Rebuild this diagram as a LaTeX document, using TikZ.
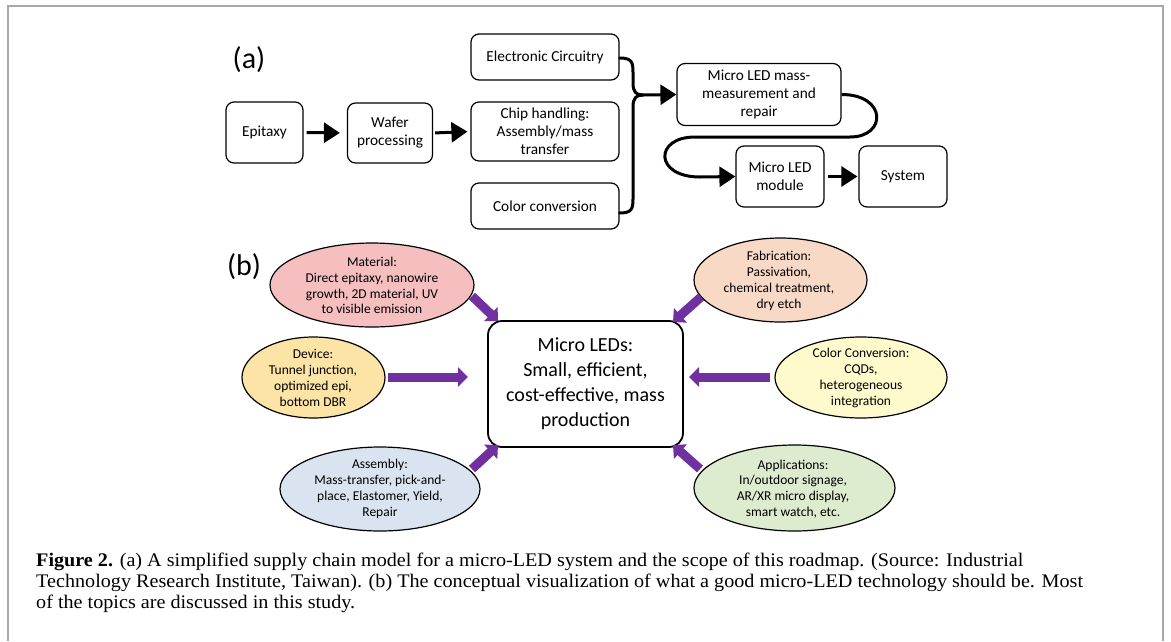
\documentclass[tikz,border=0pt]{standalone}
\usepackage{fontspec}
\setmainfont{Liberation Serif}
\newfontfamily\capfont[FakeStretch=1.05]{Liberation Serif}
\newfontfamily\dia{Carlito}
\usetikzlibrary{arrows.meta,shapes.geometric}
\definecolor{pplarrow}{HTML}{7030A0}
\definecolor{cmat}{HTML}{F5BFC0}
\definecolor{cdev}{HTML}{FCE3A6}
\definecolor{cass}{HTML}{DAE4F0}
\definecolor{cfab}{HTML}{F8D9C6}
\definecolor{ccol}{HTML}{FFFACB}
\definecolor{capp}{HTML}{DDEBCF}
\definecolor{framegray}{HTML}{A8A8A8}
\tikzset{
  sbox/.style={draw, rounded corners=8pt, line width=1.2pt, inner sep=0pt, align=center,
    font=\dia\fontsize{15.3}{18}\selectfont},
  conn/.style={line width=3pt, draw=black},
  bigtip/.style={-{Triangle[length=16pt,width=20pt]}},
  ell/.style={draw, ellipse, line width=1.2pt, inner sep=0pt},
  etext/.style={align=center, inner sep=0pt, font=\dia\fontsize{13.5}{15.8}\selectfont},
  parrow/.style={draw=pplarrow, line width=9pt, -{Triangle[length=10pt,width=19pt]}},
  capline/.style={anchor=base west, inner sep=0pt, font=\capfont\fontsize{19.2}{21}\selectfont},
  plabel/.style={inner sep=0pt, font=\dia\fontsize{30}{32}\selectfont}
}
\begin{document}
\begin{tikzpicture}[x=1pt,y=-1pt]
\useasboundingbox (0,0) rectangle (1171,641);
\fill[white] (0,0) rectangle (1171,641);
% frame
\draw[framegray, line width=1.5pt] (8,641) -- (8,6) -- (1163,6) -- (1163,641);

% ---------- (a) ----------
\node[plabel] (la) at (249,60) {(a)};
\node[sbox, minimum width=77pt, minimum height=61pt] (epi) at (264.5,132.5) {Epitaxy};
\node[sbox, minimum width=85pt, minimum height=60pt] (waf) at (390,133) {Wafer\\processing};
\node[sbox, minimum width=148pt, minimum height=46pt] (ec) at (545,57) {Electronic Circuitry};
\node[sbox, minimum width=148pt, minimum height=59pt] (ch) at (545,131.5) {Chip handling:\\Assembly/mass\\transfer};
\node[sbox, minimum width=148pt, minimum height=46pt] (cc) at (545,206) {Color conversion};
\node[sbox, minimum width=164pt, minimum height=62pt] (mm) at (759,94.5) {Micro LED mass-\\measurement and\\repair};
\node[sbox, minimum width=88pt, minimum height=61pt] (mod) at (780,176.5) {Micro LED\\module};
\node[sbox, minimum width=88pt, minimum height=61pt] (sys) at (903,176.5) {System};

\draw[conn, bigtip, shorten <=3pt, shorten >=7pt] (epi.east) -- (waf.west);
\draw[conn, bigtip, shorten <=2pt, shorten >=3pt] (waf.east) -- (ch.west);
\draw[conn, bigtip, shorten <=3pt, shorten >=1pt] (mod.east) -- (sys.west);

\coordinate (j) at (643,95);
\draw[conn, line cap=round] ([yshift=-1pt]ec.east) .. controls +(12,0) and +(0,-10) .. (633,72) -- (633,83)
   .. controls +(0,9) and +(-7,0) .. (j);
\draw[conn, line cap=round] ([yshift=-7pt]cc.east) .. controls +(12,0) and +(0,10) .. (633,199) -- (633,107)
   .. controls +(0,-9) and +(-7,0) .. (j);
\draw[conn, bigtip] (j) -- (mm.west);

\draw[conn, bigtip] (mm.east) .. controls (887,94.5) and (887,137) .. (850,137) -- (695,137)
   .. controls (654,137) and (654,177) .. (700,177) -- (mod.west);

% ---------- (b) ----------
\node[plabel] (lb) at (244,267) {(b)};

\node[draw, rounded corners=14pt, line width=1.8pt, minimum width=195pt, minimum height=126pt,
      inner sep=0pt, align=center, font=\dia\fontsize{20}{25}\selectfont] (core) at (585.5,384)
      {Micro LEDs:\\Small, efficient,\\cost-effective, mass\\production};

\node[ell, fill=cmat, minimum width=204pt, minimum height=84pt] (mat) at (372,285) {};
\node[etext] (matt) at (372,285.5) {Material:\\Direct epitaxy, nanowire\\growth, 2D material, UV\\to visible emission};

\node[ell, fill=cdev, minimum width=143pt, minimum height=81pt] (dev) at (313.5,377.5) {};
\node[etext] (devt) at (313,378) {Device:\\Tunnel junction,\\optimized epi,\\bottom DBR};

\node[ell, fill=cass, minimum width=200pt, minimum height=84pt] (ass) at (380,489) {};
\node[etext] (asst) at (380,489) {Assembly:\\Mass-transfer, pick-and-\\place, Elastomer, Yield,\\Repair};

\node[ell, fill=cfab, minimum width=173pt, minimum height=84pt] (fab) at (780.5,280) {};
\node[etext] (fabt) at (779,281) {Fabrication:\\Passivation,\\chemical treatment,\\dry etch};

\node[ell, fill=ccol, minimum width=172pt, minimum height=81pt] (col) at (861,377.5) {};
\node[etext] (colt) at (861,378) {Color Conversion:\\CQDs,\hspace*{30pt}\\heterogeneous\\integration};

\node[ell, fill=capp, minimum width=201pt, minimum height=86pt] (app) at (794.5,488) {};
\node[etext] (appt) at (793,489) {Applications:\\In/outdoor signage,\\AR/XR micro display,\\smart watch, etc.};

% purple arrows
\coordinate (matS) at (472,296);
\coordinate (matE) at (498,321);
\coordinate (devS) at (388,377);
\coordinate (devE) at (468,377);
\coordinate (assS) at (472,469);
\coordinate (assE) at (498,445);
\coordinate (fabS) at (701,297);
\coordinate (fabE) at (673,322);
\coordinate (colS) at (770,377);
\coordinate (colE) at (689,377);
\coordinate (appS) at (700,469);
\coordinate (appE) at (673,445);
\draw[parrow] (matS) -- (matE);
\draw[parrow] (devS) -- (devE);
\draw[parrow] (assS) -- (assE);
\draw[parrow] (fabS) -- (fabE);
\draw[parrow] (colS) -- (colE);
\draw[parrow] (appS) -- (appE);

% ---------- caption ----------
\node[capline] (cap1) at (36,566) {\textbf{Figure 2.} (a) A simplified supply chain model for a micro-LED system and the scope of this roadmap. (Source: Industrial};
\node[capline] (cap2) at (36,587) {Technology Research Institute, Taiwan). (b) The conceptual visualization of what a good micro-LED technology should be. Most};
\node[capline] (cap3) at (36,608) {of the topics are discussed in this study.};
\end{tikzpicture}
\end{document}
